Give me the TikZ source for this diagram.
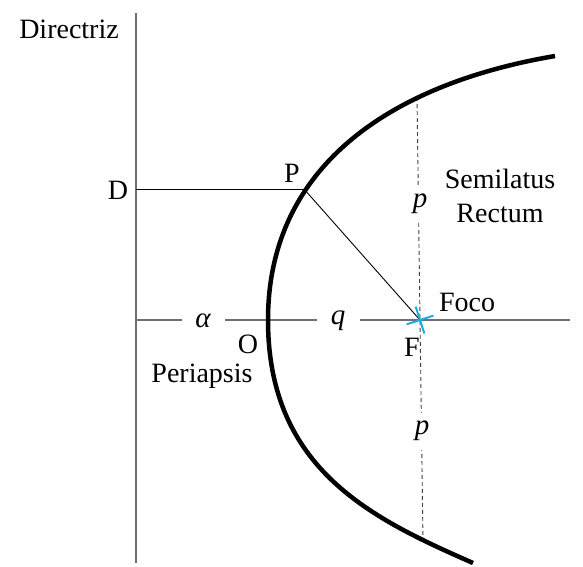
\documentclass[tikz,border=0pt]{standalone}
\usepackage{fontspec}
\setmainfont{Liberation Serif}
\usetikzlibrary{shapes.misc}
\definecolor{focuscyan}{RGB}{30,170,225}
\definecolor{axisgray}{RGB}{112,112,112}

\begin{document}
\begin{tikzpicture}
[x=1pt, y=-1pt,
 every node/.style={inner sep=0pt, font=\fontsize{28}{34}\selectfont},
 guide/.style={line width=1.3pt, color=axisgray},
 thin/.style={line width=0.9pt, color=black},
 latus/.style={line width=0.9pt, color=black!75, dash pattern=on 4pt off 3pt},
 orbit/.style={line width=4.5pt, color=black},
 gap/.style={fill=white, minimum width=43pt, minimum height=37pt, font=\fontsize{29}{34}\selectfont\itshape},
 focus/.style={draw=focuscyan, cross out, minimum size=18pt, line width=2pt, rotate=-27}]
\useasboundingbox (0,0) rectangle (583,566);
\coordinate (dtop) at (136,13);
\coordinate (dbot) at (136,563);
\coordinate (axleft) at (136,320);
\coordinate (axright) at (570,320);
\coordinate (D) at (136,189);
\coordinate (P) at (304,189);
\coordinate (F) at (420,320);
\coordinate (L1) at (417,97);
\coordinate (L2) at (423,541);
\coordinate (orbtop) at (555,56);
\coordinate (O) at (268,320);
\coordinate (orbbot) at (473,563);
% directriz y eje
\draw [guide] (dtop) -- (dbot);
\draw [guide] (axleft) -- (axright);
\draw [thin] (D) -- (P);
\draw [thin] (P) -- (F);
\draw [latus] (L1) -- (L2);
% curva
\draw [orbit] (orbtop) .. controls (385,85) and (268,170) .. (O)
  .. controls (268,470) and (373,519) .. (orbbot);
\node (focomark) [focus] at (F) {};
% textos
\node (alpha) [gap] at (203,321) {α};
\node (q) [gap] at (338,321) {q};
\node (ptop) [gap, minimum height=34pt] at (420,204) {p};
\node (pbot) [gap] at (422,431) {p};
\node (directriz) at (69,29) {Directriz};
\node (Dlabel) at (118,190) {D};
\node (Plabel) at (292,173) {P};
\node (semilatus) [align=center] at (500,196) {Semilatus\\Rectum};
\node (foco) at (467,302) {Foco};
\node (Flabel) at (412,347) {F};
\node (Olabel) at (248,344) {O};
\node (periapsis) at (202,376) {Periapsis};
\end{tikzpicture}
\end{document}
